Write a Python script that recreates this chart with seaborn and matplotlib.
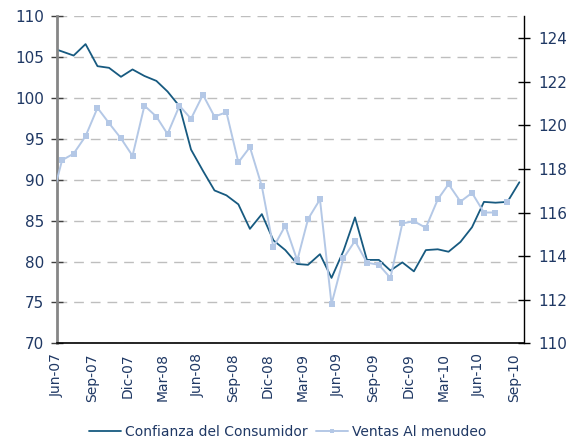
import pandas as pd
import seaborn as sns
import matplotlib.pyplot as plt
from matplotlib.lines import Line2D

# datos mensuales (fechas a mitad de mes), may-07 .. sep-10
meses = pd.date_range("2007-05-01", "2010-09-01", freq="MS") + pd.Timedelta(days=14)

confianza = [106.2, 105.7, 105.2, 106.6, 103.9, 103.7, 102.6, 103.5,
             102.7, 102.1, 100.8, 99.0, 93.7, 91.1, 88.7, 88.1, 87.0, 84.0, 85.8, 82.6,
             81.4, 79.7, 79.6, 80.9, 78.0, 81.3, 85.4, 80.2, 80.2, 78.9, 79.9, 78.8,
             81.4, 81.5, 81.2, 82.4, 84.2, 87.3, 87.2, 87.3, 89.7]

ventas = [116.3, 118.4, 118.7, 119.5, 120.8, 120.1, 119.4, 118.6,
          120.9, 120.4, 119.6, 120.9, 120.3, 121.4, 120.4, 120.6, 118.3, 119.0, 117.2, 114.4,
          115.4, 113.8, 115.7, 116.6, 111.8, 113.9, 114.7, 113.7, 113.6, 113.0, 115.5, 115.6,
          115.3, 116.6, 117.3, 116.5, 116.9, 116.0, 116.0, 116.5, None]

# ultimo punto de ventas aparece suelto (sin linea)
ventas_suelto = "2010-08"

tick_labels = ["Jun-07", "Sep-07", "Dic-07", "Mar-08", "Jun-08", "Sep-08", "Dic-08",
               "Mar-09", "Jun-09", "Sep-09", "Dic-09", "Mar-10", "Jun-10", "Sep-10"]

df = pd.DataFrame({"mes": meses, "confianza": confianza, "ventas": ventas})
df["ventas"] = df["ventas"].astype(float)
suelto = df["mes"].dt.strftime("%Y-%m") == ventas_suelto
df_linea = df[~suelto & df["ventas"].notna()]
df_punto = df[suelto]

meses_es = {"Ene": "Jan", "Abr": "Apr", "Ago": "Aug", "Dic": "Dec"}
tick_pos = [pd.to_datetime("01-" + meses_es.get(t[:3], t[:3]) + "-20" + t[-2:], format="%d-%b-%Y")
            for t in tick_labels]

AZUL = "#175a80"
CELESTE = "#b4c8e6"
TEXTO = "#1f3864"

sns.set_theme(style="white")
plt.rcParams["font.family"] = ["DejaVu Sans"]

fig, ax = plt.subplots(figsize=(5.82, 4.47), dpi=100)
fig.subplots_adjust(left=0.0974, right=0.9003, bottom=0.232, top=0.9635)

sns.lineplot(data=df, x="mes", y="confianza", ax=ax, color=AZUL, lw=1.3, legend=False)

ax2 = ax.twinx()
sns.lineplot(data=df_linea, x="mes", y="ventas", ax=ax2, color=CELESTE, lw=1.4,
             marker="s", markersize=4.5, markeredgewidth=0, legend=False)
sns.scatterplot(data=df_punto, x="mes", y="ventas", ax=ax2, color=CELESTE, marker="s",
                s=20, linewidth=0, legend=False)

ax.set_xlim(pd.Timestamp("2007-06-01"), pd.Timestamp("2010-09-27"))
ax.set_ylim(70, 110)
ax.set_yticks(range(70, 111, 5))
ax2.set_ylim(110, 125)
ax2.set_yticks(range(110, 125, 2))

ax.set_xticks(tick_pos)
ax.set_xticklabels(tick_labels, rotation=90, fontsize=10, color=TEXTO)
ax.tick_params(axis="x", direction="out", length=4, width=1, color="black", pad=3)
ax.tick_params(axis="y", direction="inout", length=8, width=1, color="#404040",
               labelsize=11, labelcolor=TEXTO, pad=5)
ax2.tick_params(axis="y", direction="inout", length=9, width=1, color="black",
                labelsize=11, labelcolor=TEXTO, pad=6)

ax.set_xlabel("")
ax.set_ylabel("")
ax2.set_xlabel("")
ax2.set_ylabel("")

ax.yaxis.grid(True, color="#bebebe", lw=1, linestyle=(0, (7, 5)))
ax.set_axisbelow(True)
ax2.grid(False)

for a in (ax, ax2):
    a.spines["top"].set_visible(False)
ax.spines["right"].set_visible(False)
ax2.spines["left"].set_visible(False)
ax.spines["left"].set_color("#868686")
ax.spines["left"].set_linewidth(2)
ax.spines["bottom"].set_color("black")
ax.spines["bottom"].set_linewidth(1.2)
ax2.spines["bottom"].set_visible(False)
ax2.spines["right"].set_color("black")
ax2.spines["right"].set_linewidth(1)

handles = [Line2D([], [], color=AZUL, lw=1.3),
           Line2D([], [], color=CELESTE, lw=1.4, marker="s", markersize=3.5, markeredgewidth=0)]
leg = fig.legend(handles, ["Confianza del Consumidor", "Ventas Al menudeo"],
                 loc="lower center", bbox_to_anchor=(0.495, -0.01), ncol=2, frameon=False,
                 fontsize=10, handlelength=2.3, columnspacing=0.6, handletextpad=0.3)
for t in leg.get_texts():
    t.set_color(TEXTO)

fig.savefig("out.png", dpi=100)
